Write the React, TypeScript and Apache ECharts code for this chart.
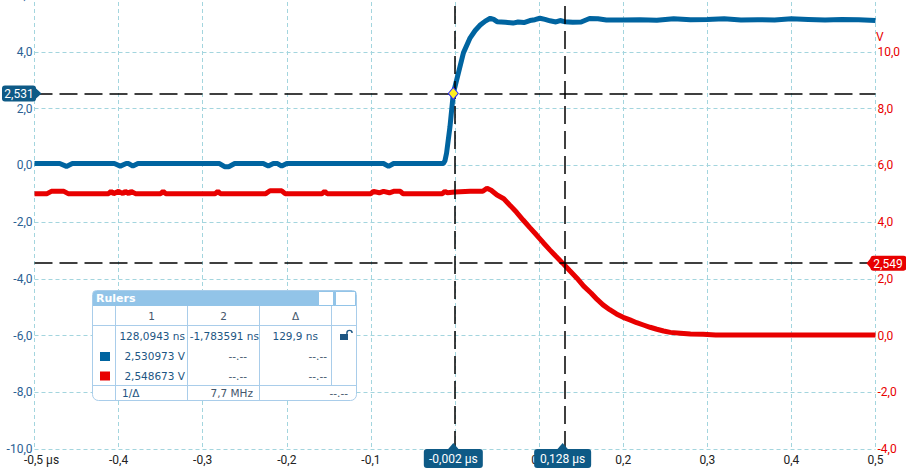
import React, { useEffect, useRef } from "react";
import * as echarts from "echarts";

// ---- data ----
const blueX = [
  -0.5, -0.47, -0.462, -0.455, -0.405, -0.398, -0.391, -0.388, -0.383, -0.377,
  -0.28, -0.274, -0.269, -0.262, -0.228, -0.222, -0.216, -0.211, -0.206, -0.2,
  -0.085, -0.079, -0.073, -0.014, -0.012, -0.01, -0.006, -0.002, 0.004, 0.01,
  0.018, 0.024, 0.03, 0.036, 0.042, 0.046, 0.05, 0.06, 0.069, 0.075, 0.082,
  0.089, 0.095, 0.101, 0.107, 0.113, 0.12, 0.125, 0.13, 0.14, 0.15, 0.16, 0.17,
  0.18, 0.2, 0.22, 0.24, 0.26, 0.28, 0.3, 0.32, 0.34, 0.36, 0.38, 0.4, 0.42,
  0.44, 0.46, 0.48, 0.5,
];
const blueY = [
  0.06, 0.06, -0.04, 0.06, 0.06, -0.03, 0.06, 0.06, -0.03, 0.06,
  0.06, -0.05, -0.05, 0.06, 0.06, -0.03, 0.06, 0.06, -0.03, 0.06,
  0.06, -0.04, 0.06, 0.06, 0.15, 0.43, 1.35, 2.53, 3.25, 3.96,
  4.49, 4.75, 4.94, 5.08, 5.18, 5.14, 5.06, 5.04, 5.01, 5.05, 5.03,
  5.1, 5.13, 5.18, 5.14, 5.09, 5.05, 5.1, 5.06, 5.04, 5.05, 5.17, 5.16,
  5.12, 5.12, 5.13, 5.11, 5.16, 5.13, 5.14, 5.16, 5.12, 5.13, 5.12, 5.16, 5.14,
  5.12, 5.14, 5.13, 5.1,
];
const redX = [
  -0.5, -0.485, -0.48, -0.465, -0.46, -0.412, -0.409, -0.406, -0.4, -0.395,
  -0.392, -0.388, -0.385, -0.38, -0.35, -0.347, -0.344, -0.285, -0.282, -0.279,
  -0.225, -0.22, -0.206, -0.202, -0.158, -0.155, -0.152, -0.1, -0.097, -0.09,
  -0.085, -0.078, -0.073, -0.065, -0.062, -0.015, -0.012, -0.009, 0.0, 0.018,
  0.033, 0.038, 0.043, 0.05, 0.058, 0.065, 0.073, 0.081, 0.089, 0.097, 0.105,
  0.113, 0.12, 0.128, 0.136, 0.145, 0.153, 0.162, 0.169, 0.176, 0.184, 0.192,
  0.2, 0.208, 0.216, 0.224, 0.232, 0.24, 0.248, 0.256, 0.268, 0.28, 0.295,
  0.31, 0.5,
];
const redY = [
  5.0, 5.0, 5.08, 5.08, 5.0, 5.0, 5.08, 5.0, 5.08, 5.0,
  5.08, 5.0, 5.08, 5.0, 5.0, 5.08, 5.0, 5.0, 5.08, 5.0,
  5.0, 5.1, 5.1, 5.0, 5.0, 5.08, 5.0, 5.0, 5.08, 5.03,
  5.08, 5.03, 5.08, 5.08, 5.0, 5.0, 5.08, 5.03, 5.06, 5.08,
  5.08, 5.19, 5.12, 4.95, 4.82, 4.6, 4.35, 4.07, 3.8, 3.54, 3.27,
  3.01, 2.79, 2.55, 2.3, 2.02, 1.74, 1.49, 1.27, 1.08, 0.91, 0.76,
  0.64, 0.55, 0.45, 0.37, 0.29, 0.22, 0.16, 0.11, 0.08, 0.05, 0.04,
  0.02, 0.02,
];

const cursorTimes = [-0.002, 0.128];
const cursorLabels = ["-0,002 µs", "0,128 µs"];
const blueLevel = 2.531;
const redLevel = 2.549;
const levelLabels = ["2,531", "2,549"];

const tableHeader = ["1", "2", "Δ"];
const timeRow = ["128,0943 ns", "-1,783591 ns", "129,9 ns"];
const ch1Row = ["2,530973 V", "--.--", "--.--"];
const ch2Row = ["2,548673 V", "--.--", "--.--"];
const freqRow = ["1/Δ", "7,7 MHz", "--.--"];

const BLUE = "#0064a0";
const RED = "#e80000";
const GRID = "#a3d5de";
const BADGE = "#0e5a86";

export default function App() {
  const ref = useRef<HTMLDivElement>(null);
  useEffect(() => {
    const chart = echarts.init(ref.current!, null, { renderer: "svg" });
    const fmt = (v: number) => (Math.abs(v) < 1e-9 ? 0 : v).toFixed(1).replace(".", ",");
    const option: any = {
      animation: false,
      backgroundColor: "#fff",
      grid: { left: 34.5, right: 30.5, top: -5, bottom: 23, outerBoundsMode: "none", containLabel: false },
      xAxis: {
        type: "value",
        min: -0.5,
        max: 0.5,
        interval: 0.1,
        axisLine: { show: false },
        axisTick: { show: false },
        splitLine: { show: true, lineStyle: { color: GRID, type: [4, 3], width: 1 } },
        axisLabel: {
          color: "#222",
          fontFamily: "Roboto",
          fontSize: 12,
          margin: 5,
          formatter: (v: number) =>
            Math.abs(v + 0.5) < 1e-9 ? "{first|-0,5 µs}" : Math.abs(v) < 1e-9 ? "0" : fmt(v),
          rich: { first: { padding: [0, 0, 0, 14], fontFamily: "Roboto", fontSize: 12, color: "#222" } },
        },
      },
      yAxis: [
        {
          type: "value",
          position: "left",
          min: -10,
          max: 6,
          interval: 2,
          axisLine: { show: false },
          axisTick: { show: false },
          splitLine: { show: true, lineStyle: { color: GRID, type: [4, 3], width: 1 } },
          axisLabel: { color: "#2a6194", fontFamily: "Roboto", fontSize: 12, margin: 2, formatter: fmt },
        },
        {
          type: "value",
          position: "right",
          min: -4,
          max: 12,
          interval: 2,
          axisLine: { show: false },
          axisTick: { show: false },
          splitLine: { show: false },
          axisLabel: { color: RED, fontFamily: "Roboto", fontSize: 12, margin: 2, showMaxLabel: false, formatter: fmt },
        },
      ],
      series: [
        {
          type: "line",
          data: [],
          z: 1,
          markLine: {
            silent: true,
            symbol: ["none", "none"],
            label: { show: false },
            lineStyle: { color: "#000", type: [18, 7], width: 1.5 },
            data: [{ yAxis: blueLevel }, { xAxis: cursorTimes[0] }, { xAxis: cursorTimes[1] }],
          },
        },
        {
          type: "line",
          data: [],
          yAxisIndex: 1,
          z: 1,
          markLine: {
            silent: true,
            symbol: ["none", "none"],
            label: { show: false },
            lineStyle: { color: "#000", type: [18, 7], width: 1.5 },
            data: [{ yAxis: redLevel }],
          },
        },
        {
          type: "line",
          name: "ch1",
          data: blueX.map((x, i) => [x, blueY[i]]),
          yAxisIndex: 0,
          showSymbol: false,
          z: 3,
          lineStyle: { color: BLUE, width: 5 },
        },
        {
          type: "line",
          name: "ch2",
          data: redX.map((x, i) => [x, redY[i]]),
          yAxisIndex: 1,
          showSymbol: false,
          z: 3,
          lineStyle: { color: RED, width: 5 },
        },
        {
          type: "line",
          data: [],
          z: 6,
          markPoint: {
            silent: true,
            symbol: "diamond",
            symbolSize: [10, 12],
            label: { show: false },
            itemStyle: { color: "#ffee22", borderColor: "#2a2aff", borderWidth: 1 },
            data: [{ coord: [cursorTimes[0], blueLevel] }],
          },
        },
      ],
    };
    chart.setOption(option);

    const yb = chart.convertToPixel({ yAxisIndex: 0 }, blueLevel) as number;
    const yr = chart.convertToPixel({ yAxisIndex: 1 }, redLevel) as number;
    const xs = cursorTimes.map((t) => chart.convertToPixel({ xAxisIndex: 0 }, t) as number);
    const axisY = chart.convertToPixel({ yAxisIndex: 0 }, -10) as number;
    const yV = chart.convertToPixel({ yAxisIndex: 1 }, 10.52) as number;

    const g: any[] = [];
    const txt = (text: string, x: number, y: number, fill: string, font: string, align = "left") => ({
      type: "text",
      x,
      y,
      z: 101,
      style: { text, fill, font, align, textAlign: align, verticalAlign: "middle", textVerticalAlign: "middle" },
    });

    // left level badge
    g.push({ type: "rect", z: 100, shape: { x: 2, y: yb - 8, width: 34, height: 16, r: 3 }, style: { fill: BADGE } });
    g.push({ type: "polygon", z: 100, shape: { points: [[35, yb - 6], [41.5, yb], [35, yb + 6]] }, style: { fill: BADGE } });
    g.push(txt(levelLabels[0], 19, yb + 0.5, "#fff", '12px "Roboto"', "center"));
    // right level badge
    g.push({ type: "rect", z: 100, shape: { x: 870.5, y: yr - 7.5, width: 36, height: 15, r: 3 }, style: { fill: RED } });
    g.push({ type: "polygon", z: 100, shape: { points: [[871.5, yr - 6], [866.5, yr], [871.5, yr + 6]] }, style: { fill: RED } });
    g.push(txt(levelLabels[1], 888, yr + 0.5, "#fff", '12px "Roboto"', "center"));
    // cursor badges
    xs.forEach((xc, i) => {
      const w = i === 0 ? 59 : 57;
      g.push({ type: "rect", z: 100, shape: { x: xc - w / 2, y: axisY, width: w, height: 19, r: 3 }, style: { fill: BADGE } });
      g.push({ type: "polygon", z: 100, shape: { points: [[xc - 6, axisY + 1], [xc, axisY - 6], [xc + 6, axisY + 1]] }, style: { fill: BADGE } });
      g.push(txt(cursorLabels[i], xc, axisY + 10, "#fff", '12px "Roboto"', "center"));
    });
    // axis unit
    g.push(txt("V", 876, yV, RED, '12px "Roboto"', "left"));

    // Rulers table
    const TB = "#a9cdea";
    const F = '10.5px "DejaVu Sans"';
    const VAL = "#1d5683";
    const DIM = "#44566b";
    g.push({ type: "rect", z: 100, shape: { x: 92.5, y: 290.5, width: 264, height: 110, r: [4, 4, 6, 6] }, style: { fill: "#fff", stroke: TB, lineWidth: 1 } });
    g.push({ type: "rect", z: 100, shape: { x: 93, y: 291, width: 263, height: 15, r: [3, 3, 0, 0] }, style: { fill: "#92c4e8" } });
    g.push({ type: "rect", z: 101, shape: { x: 318.5, y: 291.5, width: 15, height: 14 }, style: { fill: "#fff", stroke: "#92c4e8" } });
    g.push({ type: "rect", z: 101, shape: { x: 335.5, y: 291.5, width: 20, height: 14 }, style: { fill: "#fff", stroke: "#92c4e8" } });
    g.push(txt("Rulers", 96, 298.5, "#fff", 'bold 11px "DejaVu Sans"'));
    [325.5, 385.5].forEach((y) =>
      g.push({ type: "line", z: 101, shape: { x1: 93, y1: y, x2: 356, y2: y }, style: { stroke: TB, lineWidth: 1 } })
    );
    [115.5, 187.5, 259.5].forEach((x) =>
      g.push({ type: "line", z: 101, shape: { x1: x, y1: 306, x2: x, y2: 400 }, style: { stroke: TB, lineWidth: 1 } })
    );
    g.push({ type: "line", z: 101, shape: { x1: 331.5, y1: 306, x2: 331.5, y2: 385 }, style: { stroke: TB, lineWidth: 1 } });
    // header
    [151.5, 223.5, 295.5].forEach((x, i) => g.push(txt(tableHeader[i], x, 316, DIM, F, "center")));
    // rows
    g.push(txt(timeRow[0], 185, 336, VAL, F, "right"));
    g.push(txt(timeRow[1], 259, 336, VAL, F, "right"));
    g.push(txt(timeRow[2], 318, 336, VAL, F, "right"));
    g.push({ type: "rect", z: 101, shape: { x: 100, y: 352, width: 10, height: 9 }, style: { fill: BLUE } });
    g.push(txt(ch1Row[0], 185, 356, VAL, F, "right"));
    g.push(txt(ch1Row[1], 247, 356, DIM, F, "right"));
    g.push(txt(ch1Row[2], 327, 356, DIM, F, "right"));
    g.push({ type: "rect", z: 101, shape: { x: 100, y: 371.5, width: 10, height: 9 }, style: { fill: RED } });
    g.push(txt(ch2Row[0], 185, 376, VAL, F, "right"));
    g.push(txt(ch2Row[1], 247, 376, DIM, F, "right"));
    g.push(txt(ch2Row[2], 327, 376, DIM, F, "right"));
    g.push(txt(freqRow[0], 122, 393, VAL, F, "left"));
    g.push(txt(freqRow[1], 253, 393, DIM, F, "right"));
    g.push(txt(freqRow[2], 348, 393, DIM, F, "right"));
    // unlocked padlock
    g.push({ type: "rect", z: 101, shape: { x: 340, y: 334, width: 8, height: 6 }, style: { fill: VAL } });
    g.push({ type: "arc", z: 101, shape: { cx: 349.5, cy: 333, r: 2.6, startAngle: Math.PI, endAngle: 2 * Math.PI }, style: { stroke: VAL, lineWidth: 1.4, fill: "none" } });
    g.push({ type: "line", z: 101, shape: { x1: 346.9, y1: 333, x2: 346.9, y2: 334 }, style: { stroke: VAL, lineWidth: 1.4 } });

    chart.setOption({ graphic: g });
    return () => chart.dispose();
  }, []);
  return (
    <div
      ref={ref}
      style={{ position: "fixed", left: 0, top: 0, width: 906, height: 472, background: "#fff" }}
    />
  );
}
